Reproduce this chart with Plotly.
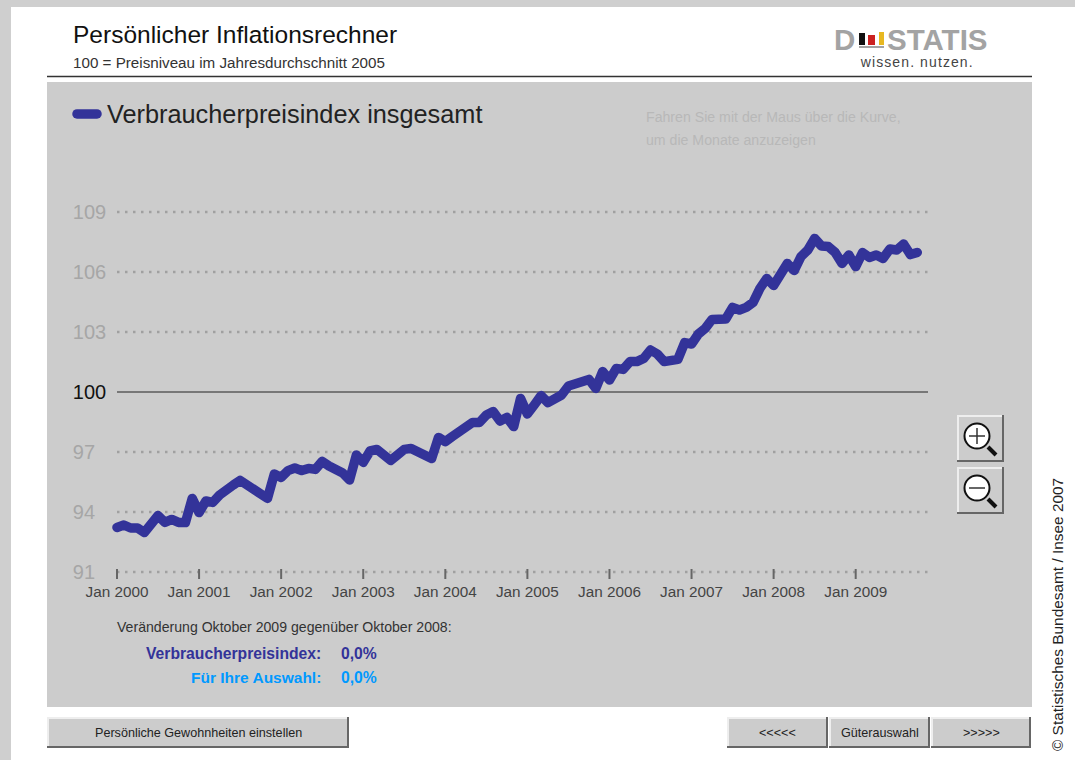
import plotly.graph_objects as go

YEARS = list(range(2000, 2010))
MONTH_NAMES = ["Jan", "Feb", "Mar", "Apr", "May", "Jun", "Jul", "Aug", "Sep", "Oct", "Nov", "Dec"]
MONTHS = [f"{m} {y}" for y in YEARS for m in MONTH_NAMES][:118]
TICK_MONTHS = [f"Jan {y}" for y in YEARS]

CPI = [
    93.23, 93.35, 93.20, 93.20, 92.98, 93.40, 93.82, 93.48, 93.63, 93.48, 93.47, 94.68,
    93.97, 94.55, 94.48, 94.85, 95.18, 95.35, 95.58, 95.35, 95.23, 94.90, 94.68, 95.90,
    95.73, 96.07, 96.20, 96.07, 96.18, 96.13, 96.53, 96.30, 96.10, 95.95, 95.60, 96.85,
    96.48, 97.05, 97.13, 96.85, 96.58, 96.85, 97.13, 97.18, 97.02, 96.85, 96.67, 97.73,
    97.52, 97.77, 98.05, 98.27, 98.48, 98.48, 98.85, 99.02, 98.55, 98.73, 98.27, 99.68,
    98.90, 99.35, 99.82, 99.47, 99.65, 99.85, 100.30, 100.40, 100.57, 100.63, 100.18, 101.02,
    100.60, 101.18, 101.13, 101.52, 101.52, 101.68, 102.10, 101.90, 101.52, 101.63, 101.63, 102.47,
    102.40, 102.90, 103.18, 103.63, 103.60, 103.65, 104.23, 104.10, 104.23, 104.48, 105.18, 105.68,
    105.32, 105.85, 106.43, 106.07, 106.77, 107.10, 107.68, 107.30, 107.27, 106.98, 106.43, 106.85,
    106.27, 106.97, 106.73, 106.85, 106.68, 107.15, 107.10, 107.40, 106.87, 106.98,
]
Y_TICKS = [91, 94, 97, 100, 103, 106, 109]
SERIES_NAME = "Verbraucherpreisindex insgesamt"

W, H = 1075, 760
FONT = "Liberation Sans, Arial, sans-serif"
PANEL = "#cccccc"
BLUE = "#333399"


def fx(px):
    return px / W


def fy(py):
    return 1 - py / H


shapes = []
annotations = []


def rect(x0, y0, x1, y1, fill, layer="below"):
    shapes.append(dict(type="rect", xref="paper", yref="paper", x0=fx(x0), x1=fx(x1),
                       y0=fy(y0), y1=fy(y1), fillcolor=fill, line_width=0, layer=layer))


def seg(x0, y0, x1, y1, color, width, layer="below"):
    shapes.append(dict(type="line", xref="paper", yref="paper", x0=fx(x0), x1=fx(x1),
                       y0=fy(y0), y1=fy(y1), line=dict(color=color, width=width), layer=layer))


def circle(cx, cy, r, fill, color, width, layer="below"):
    shapes.append(dict(type="circle", xref="paper", yref="paper", x0=fx(cx - r), x1=fx(cx + r),
                       y0=fy(cy + r), y1=fy(cy - r), fillcolor=fill,
                       line=dict(color=color, width=width), layer=layer))


def label(x, y, text, size, color="#222222", anchor="left", bold=False, angle=0):
    annotations.append(dict(xref="paper", yref="paper", x=fx(x), y=fy(y), text=f"<b>{text}</b>" if bold else text,
                            showarrow=False, xanchor=anchor, yanchor="middle", textangle=angle,
                            borderpad=0, borderwidth=0,
                            font=dict(family=FONT, size=size, color=color)))


def button(x0, y0, x1, y1, text=None):
    rect(x0, y0, x1, y1, "#666666")
    rect(x0, y0, x1 - 2, y1 - 2, "#eeeeee")
    rect(x0 + 2, y0 + 2, x1 - 2, y1 - 2, PANEL)
    if text:
        label((x0 + x1) / 2, (y0 + y1) / 2 + 0.5, text, 12.6, "#222222", "center")


# page frame
rect(0, 0, W, 7, "#cfcfcf")
rect(0, 0, 11, H, "#cfcfcf")
rect(47, 82, 1032, 707, PANEL)
seg(47, 76.5, 1032, 76.5, "#333333", 1.5)

# header
label(73, 34, "Persönlicher Inflationsrechner", 24.5, "#111111")
label(73, 62, "100 = Preisniveau im Jahresdurchschnitt 2005", 15.2, "#333333")

# logo
label(834, 40, "D", 29.5, "#a3a3a3", bold=True)
label(887, 40, "STATIS", 29.5, "#a3a3a3", bold=True)
rect(859, 33, 865, 45, "#111111")
rect(868, 35, 875, 45, "#cc2222")
rect(879, 32, 884, 45, "#e8b820")
rect(859, 46, 884, 48, "#a3a3a3")
label(867.5, 62, "wissen. nutzen.", 14, "#444444")

# hint text
label(646, 117, "Fahren Sie mit der Maus über die Kurve,", 14.15, "#b8b8b8")
label(646, 140, "um die Monate anzuzeigen", 14.15, "#b8b8b8")

# summary
label(117, 627, "Veränderung Oktober 2009 gegenüber Oktober 2008:", 14.1, "#333333")
label(321, 653, "Verbraucherpreisindex:", 15.7, BLUE, "right", True)
label(341, 653, "0,0%", 15.7, BLUE, bold=True)
label(321, 677, "Für Ihre Auswahl:", 15.5, "#0099ff", "right", True)
label(341, 677, "0,0%", 15.7, "#0099ff", bold=True)

# credit
label(1057, 615, "© Statistisches Bundesamt / Insee 2007", 15.4, "#222222", "center", angle=-90)

# buttons
button(47, 717, 349, 748, "Persönliche Gewohnheiten einstellen")
button(727, 717, 828, 748, "&lt;&lt;&lt;&lt;&lt;")
button(829, 717, 930, 748, "Güterauswahl")
button(931, 717, 1031, 748, "&gt;&gt;&gt;&gt;&gt;")

# zoom buttons
for top, sign in ((415, True), (467, False)):
    button(957, top, 1004, top + 47)
    cy = top + 21
    seg(988, cy + 11, 996, cy + 19, "#111111", 4)
    circle(977, cy, 12.5, "#ffffff", "#111111", 2)
    seg(969, cy, 985, cy, "#333333", 1.5)
    if sign:
        seg(977, cy - 8, 977, cy + 8, "#333333", 1.5)

# grid lines, the solid 100 reference line and x-axis tick marks, in data coordinates
for v in Y_TICKS:
    if v == 100:
        line = dict(color="#777777", width=2)
    else:
        line = dict(color="#a0a0a0", width=2.5, dash="2.5px,5.5px")
    shapes.append(dict(type="line", xref="paper", yref="y", x0=fx(117), x1=fx(928), y0=v, y1=v,
                       line=line, layer="between"))
for m in TICK_MONTHS:
    shapes.append(dict(type="line", xref="x", yref="y", x0=m, x1=m, y0=91.15, y1=90.65,
                       line=dict(color="#666666", width=2), layer="between"))

fig = go.Figure(go.Scatter(
    x=MONTHS, y=CPI, name=SERIES_NAME, mode="lines", showlegend=True, cliponaxis=False,
    line=dict(color=BLUE, width=9.5),
    hovertemplate="%{x}: %{y:.1f}<extra></extra>",
))

# trailing no-break spaces (one digit wide) keep the two-digit labels flush left with the three-digit ones
y_text = ['<span style="color:#111111">100</span>' if v == 100 else
          (str(v) if v > 100 else f"{v}\u00a0\u00a0") for v in Y_TICKS]

fig.update_layout(
    width=W, height=H, autosize=False,
    margin=dict(l=0, r=0, t=0, b=0, autoexpand=False),
    paper_bgcolor="#ffffff", plot_bgcolor="rgba(0,0,0,0)",
    font=dict(family=FONT),
    shapes=shapes, annotations=annotations,
    legend=dict(x=fx(67), y=fy(113), xanchor="left", yanchor="middle",
                itemwidth=30, bgcolor="rgba(0,0,0,0)", font=dict(family=FONT, size=25.3, color="#222222")),
    xaxis=dict(domain=[fx(110.16), fx(928)], type="category", categoryorder="array", categoryarray=MONTHS,
               range=[-1, 118.57], tickmode="array", tickvals=TICK_MONTHS, ticktext=TICK_MONTHS,
               showgrid=False, showline=False, zeroline=False, ticks="", tickangle=0,
               tickfont=dict(family=FONT, size=15.3, color="#444444")),
    yaxis=dict(domain=[fy(581), fy(205)], range=[90.55, 109.35], tickmode="array",
               tickvals=Y_TICKS, ticktext=y_text, showgrid=False, zeroline=False, showline=False,
               ticks="", ticklabelstandoff=3,
               tickfont=dict(family=FONT, size=20, color="#a6a6a6")),
)

post = """
document.body.style.margin = '0';
document.body.style.overflow = 'hidden';
document.querySelectorAll('text').forEach(function (t) {
  if (t.textContent.indexOf('wissen') === 0) { t.style.letterSpacing = '1.1px'; }
});
document.querySelectorAll('path.js-line').forEach(function (p) {
  p.style.strokeLinejoin = 'round';
  p.style.strokeLinecap = 'round';
});
document.querySelectorAll('.legend path.js-line').forEach(function (p) {
  p.setAttribute('d', 'M10,1h20');
});
"""
fig.write_html("out.html", post_script=post, config={"displayModeBar": False})
